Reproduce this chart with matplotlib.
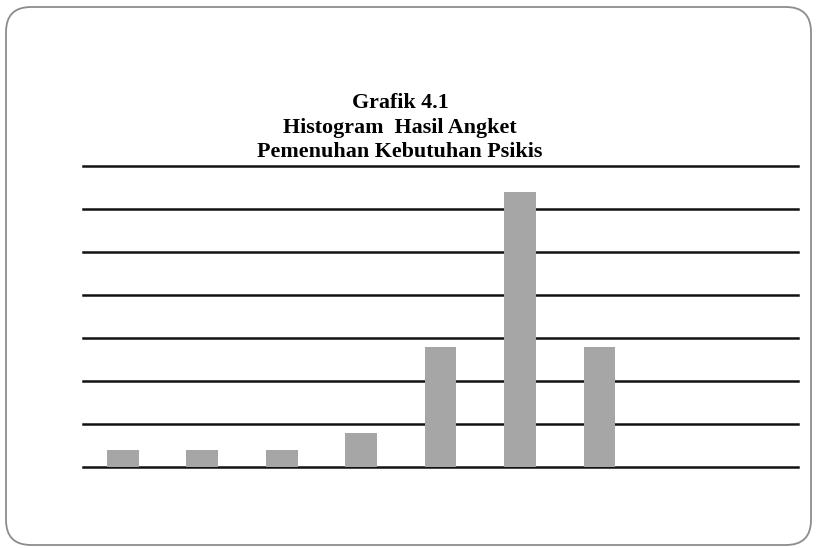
import matplotlib.pyplot as plt
from matplotlib.patches import FancyBboxPatch

# data (9 categories, last two empty)
kategori = ['1', '2', '3', '4', '5', '6', '7', '8', '9']
frekuensi = [1, 1, 1, 2, 7, 16, 7, 0, 0]
garis_y = [0, 2.5, 5, 7.5, 10, 12.5, 15, 17.5]

fig = plt.figure(figsize=(8.16, 5.48), dpi=100)
ax = fig.add_axes([83 / 816, 81 / 548, 715 / 816, 301 / 548])

pos = list(range(len(kategori)))
ax.bar(pos, frekuensi, width=0.4, color='#a6a6a6', zorder=3)

ax.set_xlim(-0.5, len(kategori) - 0.5)
ax.set_ylim(0, 17.5)
ax.set_yticks(garis_y)
ax.set_xticks([])
ax.tick_params(left=False, labelleft=False)
ax.yaxis.grid(True, color='#111111', linewidth=1.8, zorder=1)
for g in ax.get_ygridlines():
    g.set_clip_on(False)
for s in ax.spines.values():
    s.set_visible(False)

# judul
judul = 'Grafik 4.1\nHistogram  Hasil Angket\nPemenuhan Kebutuhan Psikis'
fig.text(400 / 816, 1 - 127.5 / 548, judul, ha='center', va='center',
         fontsize=15.8, fontweight='bold', family='Liberation Serif',
         linespacing=1.33)

# bingkai bulat
bingkai = FancyBboxPatch((0.06, 0.03), 8.05, 5.38,
                         boxstyle='round,pad=0,rounding_size=0.25',
                         transform=fig.dpi_scale_trans, fill=False,
                         edgecolor='#8c8c8c', linewidth=1.3)
fig.patches.append(bingkai)

fig.savefig('out.png', dpi=100)
